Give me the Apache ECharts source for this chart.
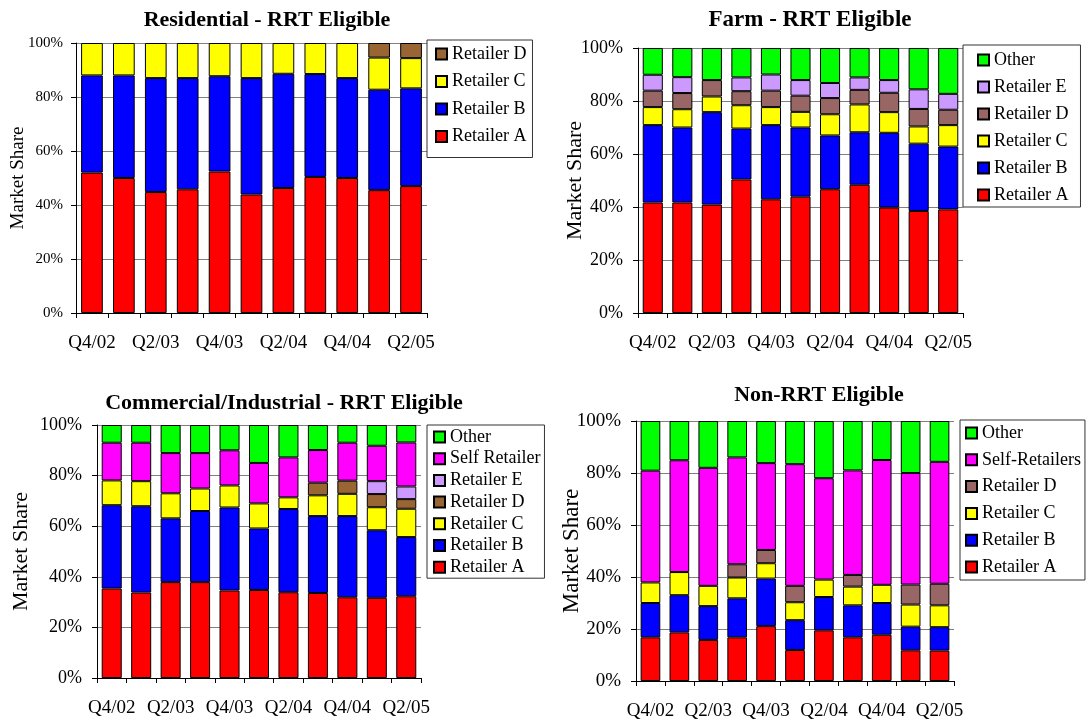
<!DOCTYPE html>
<html>
<head>
<meta charset="utf-8">
<script src="https://cdn.jsdelivr.net/npm/echarts@6/dist/echarts.min.js"></script>
<style>
html,body{margin:0;padding:0;background:#fff;}
#chart{width:1087px;height:723px;}
</style>
</head>
<body>
<div id="chart"></div>
<script>
// ---------- data ----------
const categories = ['Q4/02','Q1/03','Q2/03','Q3/03','Q4/03','Q1/04','Q2/04','Q3/04','Q4/04','Q1/05','Q2/05'];
const yTickLabels = ['0%','20%','40%','60%','80%','100%'];

// Residential - RRT Eligible
const resRetailerA = [52.0, 50.0, 44.8, 45.8, 52.4, 43.9, 46.3, 50.4, 50.0, 45.5, 47.0];
const resRetailerB = [36.0, 38.0, 42.2, 41.2, 35.3, 43.1, 42.3, 38.1, 37.0, 37.2, 36.2];
const resRetailerC = [12.0, 12.0, 13.0, 13.0, 12.3, 13.0, 11.4, 11.5, 13.0, 11.9, 11.2];
const resRetailerD = [0, 0, 0, 0, 0, 0, 0, 0, 0, 5.4, 5.6];

// Farm - RRT Eligible
const farmRetailerA = [41.7, 41.7, 40.9, 50.4, 42.9, 43.9, 46.7, 48.4, 39.8, 38.5, 39.1];
const farmRetailerB = [29.2, 28.3, 34.9, 19.2, 28.0, 26.1, 20.3, 19.8, 28.2, 25.4, 23.7];
const farmRetailerC = [6.8, 6.9, 5.9, 8.8, 6.8, 5.9, 8.0, 10.5, 7.8, 6.5, 8.1];
const farmRetailerD = [6.2, 6.1, 6.2, 5.3, 6.2, 6.1, 6.1, 5.5, 7.3, 6.6, 5.8];
const farmRetailerE = [6.0, 6.0, 0, 5.2, 6.1, 5.9, 5.7, 4.7, 4.8, 7.4, 6.0];
const farmOther     = [10.1, 11.0, 12.1, 11.1, 10.0, 12.1, 13.2, 11.1, 12.1, 15.6, 17.3];

// Commercial/Industrial - RRT Eligible
const ciRetailerA = [35.4, 33.8, 37.9, 37.9, 34.6, 34.8, 33.9, 33.6, 31.9, 31.7, 32.3];
const ciRetailerB = [32.9, 34.1, 25.2, 28.1, 32.8, 24.3, 32.9, 30.4, 32.1, 26.7, 23.4];
const ciRetailerC = [9.8, 9.9, 9.9, 8.9, 8.7, 9.9, 4.6, 8.2, 8.8, 9.1, 11.2];
const ciRetailerD = [0, 0, 0, 0, 0, 0, 0, 5.0, 5.2, 5.2, 3.8];
const ciRetailerE = [0, 0, 0, 0, 0, 0, 0, 0, 0, 5.1, 5.0];
const ciSelfRetailer = [14.9, 15.2, 15.9, 14.0, 13.9, 16.0, 15.8, 12.9, 15.0, 14.0, 17.4];
const ciOther     = [7.0, 7.0, 11.1, 11.1, 10.0, 15.0, 12.8, 9.9, 7.0, 8.2, 6.9];

// Non-RRT Eligible
const nonRetailerA = [16.8, 18.7, 15.8, 16.8, 21.1, 11.9, 19.5, 16.8, 17.8, 11.8, 11.7];
const nonRetailerB = [13.2, 14.3, 13.0, 15.0, 18.3, 11.5, 12.8, 12.3, 12.2, 9.1, 9.0];
const nonRetailerC = [7.9, 8.9, 7.8, 8.0, 5.9, 6.9, 6.7, 7.2, 7.0, 8.5, 8.4];
const nonRetailerD = [0, 0, 0, 5.1, 5.1, 6.3, 0, 4.5, 0, 7.7, 8.3];
const nonSelfRetailers = [43.0, 43.0, 45.4, 41.1, 33.4, 46.8, 39.0, 40.2, 48.0, 42.9, 46.9];
const nonOther     = [19.1, 15.1, 18.0, 14.0, 16.2, 16.6, 22.0, 19.0, 15.0, 20.0, 15.7];

// ---------- colours ----------
const C = {
  red:'#FF0000', blue:'#0000FF', yellow:'#FFFF00', brown:'#996633', mauve:'#996666',
  lavender:'#CC99FF', magenta:'#FF00FF', green:'#00FF00'
};

const FONT = 'Liberation Serif';

const panels = [
  {
    title:'Residential - RRT Eligible', titleX:262, titleTop:4, titleSize:22,
    grid:{left:76, top:43, width:351, height:270},
    yLabelSize:15, xLabelSize:19, nameSize:19, nameGap:48, yLabelMargin:13,
    legend:{left:427, top:40, padding:[5,6,12,8], itemGap:9.5},
    series:[
      ['Retailer A', resRetailerA, C.red],
      ['Retailer B', resRetailerB, C.blue],
      ['Retailer C', resRetailerC, C.yellow],
      ['Retailer D', resRetailerD, C.brown]
    ]
  },
  {
    title:'Farm - RRT Eligible', titleX:805, titleTop:4, titleSize:23,
    grid:{left:638, top:48, width:325, height:265},
    yLabelSize:18, xLabelSize:19, nameSize:22, nameGap:52, yLabelMargin:15,
    legend:{left:963, top:45, padding:[6,12,3,14], itemGap:9},
    series:[
      ['Retailer A', farmRetailerA, C.red],
      ['Retailer B', farmRetailerB, C.blue],
      ['Retailer C', farmRetailerC, C.yellow],
      ['Retailer D', farmRetailerD, C.mauve],
      ['Retailer E', farmRetailerE, C.lavender],
      ['Other', farmOther, C.green]
    ]
  },
  {
    title:'Commercial/Industrial - RRT Eligible', titleX:279, titleTop:387, titleSize:22,
    grid:{left:97, top:425, width:324, height:253},
    yLabelSize:18, xLabelSize:19, nameSize:22, nameGap:65, yLabelMargin:15,
    legend:{left:427, top:425, padding:[3,4,2,6], itemGap:3.7},
    series:[
      ['Retailer A', ciRetailerA, C.red],
      ['Retailer B', ciRetailerB, C.blue],
      ['Retailer C', ciRetailerC, C.yellow],
      ['Retailer D', ciRetailerD, C.brown],
      ['Retailer E', ciRetailerE, C.lavender],
      ['Self Retailer', ciSelfRetailer, C.magenta],
      ['Other', ciOther, C.green]
    ]
  },
  {
    title:'Non-RRT Eligible', titleX:814, titleTop:379, titleSize:22,
    grid:{left:636, top:421, width:318, height:260},
    yLabelSize:19, xLabelSize:19, nameSize:23, nameGap:53, yLabelMargin:15,
    legend:{left:960, top:420, padding:[4,4,4,5], itemGap:8.8},
    series:[
      ['Retailer A', nonRetailerA, C.red],
      ['Retailer B', nonRetailerB, C.blue],
      ['Retailer C', nonRetailerC, C.yellow],
      ['Retailer D', nonRetailerD, C.mauve],
      ['Self-Retailers', nonSelfRetailers, C.magenta],
      ['Other', nonOther, C.green]
    ]
  }
];

const option = {
  animation:false,
  backgroundColor:'#fff',
  textStyle:{fontFamily:FONT, color:'#000'},
  title:[], grid:[], xAxis:[], yAxis:[], legend:[], series:[]
};

panels.forEach((p, i) => {
  option.title.push({
    text:p.title, left:p.titleX, top:p.titleTop, textAlign:'center',
    textStyle:{fontFamily:FONT, fontWeight:'bold', fontSize:p.titleSize, color:'#000'}
  });
  option.grid.push(Object.assign({containLabel:false}, p.grid));
  option.xAxis.push({
    type:'category', gridIndex:i, data:categories, boundaryGap:true,
    axisLine:{show:true, lineStyle:{color:'#000', width:1}},
    axisTick:{show:true, interval:0, length:5, lineStyle:{color:'#000'}},
    axisLabel:{interval:1, margin:21, fontFamily:FONT, fontSize:p.xLabelSize, color:'#000'},
    splitLine:{show:false}
  });
  option.yAxis.push({
    type:'value', gridIndex:i, min:0, max:100, interval:20,
    name:'Market Share', nameLocation:'middle', nameGap:p.nameGap, nameRotate:90,
    nameMoveOverlap:false,
    nameTextStyle:{fontFamily:FONT, fontSize:p.nameSize, color:'#000'},
    axisLine:{show:true, lineStyle:{color:'#000', width:1}},
    axisTick:{show:true, length:5, lineStyle:{color:'#000'}},
    axisLabel:{margin:p.yLabelMargin, fontFamily:FONT, fontSize:p.yLabelSize, color:'#000',
      formatter:(v)=>yTickLabels[Math.round(v/20)]},
    splitLine:{show:true, lineStyle:{color:'#808080', width:1}}
  });
  const names = [];
  p.series.forEach(([name, data, color]) => {
    const sname = 'p' + i + '|' + name;
    names.push(sname);
    option.series.push({
      type:'bar', name:sname, xAxisIndex:i, yAxisIndex:i, stack:'s' + i,
      barCategoryGap:'32%',
      data:data.map(v => v === 0 ? '-' : v),
      itemStyle:{color:color, borderColor:'#000', borderWidth:1}
    });
  });
  option.legend.push({
    orient:'vertical', left:p.legend.left, top:p.legend.top,
    padding:p.legend.padding, itemGap:p.legend.itemGap,
    itemWidth:11, itemHeight:11, icon:'rect',
    borderColor:'#333', borderWidth:1,
    data:names.slice().reverse(),
    formatter:(n)=>n.split('|')[1],
    textStyle:{fontFamily:FONT, fontSize:18, color:'#000', padding:[0,0,0,0]},
    selectedMode:false
  });
});

const chart = echarts.init(document.getElementById('chart'), null, {renderer:'canvas'});
chart.setOption(option);
</script>
</body>
</html>
